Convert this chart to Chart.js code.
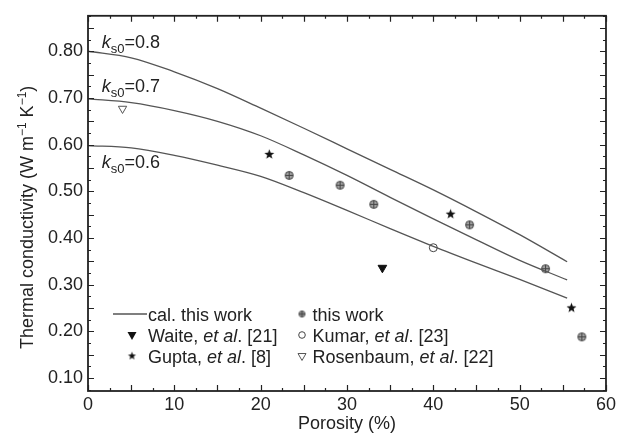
<!DOCTYPE html>
<html>
<head>
<meta charset="utf-8">
<script src="https://cdn.jsdelivr.net/npm/chart.js@4.4.1/dist/chart.umd.min.js"></script>
<style>
  html, body { margin: 0; padding: 0; background: #fff; }
  #wrap { width: 619px; height: 438px; }
</style>
</head>
<body>
<div id="wrap"><canvas id="chart" width="619" height="438"></canvas></div>
<script>
// cal. this work, one curve per ks0
const curveX = [0, 5, 10, 15, 20, 25, 30, 35, 40, 45, 50, 55.5];
const curve08 = [0.800, 0.786, 0.756, 0.720, 0.678, 0.635, 0.591, 0.547, 0.503, 0.456, 0.407, 0.349];
const curve07 = [0.698, 0.690, 0.673, 0.650, 0.619, 0.578, 0.534, 0.487, 0.441, 0.396, 0.352, 0.310];
const curve06 = [0.598, 0.593, 0.577, 0.556, 0.532, 0.497, 0.459, 0.420, 0.382, 0.346, 0.311, 0.271];

// measured data
const thisWorkX = [23.3, 29.2, 33.1, 44.2, 53.0, 57.2];
const thisWorkY = [0.534, 0.513, 0.472, 0.428, 0.334, 0.188];
const waiteX = [34.1];
const waiteY = [0.336];
const guptaX = [21.0, 42.0, 56.0];
const guptaY = [0.579, 0.451, 0.250];
const kumarX = [40.0];
const kumarY = [0.379];
const rosenX = [4.0];
const rosenY = [0.677];

// axis ticks
const xTicks = [0, 10, 20, 30, 40, 50, 60];
const yTicks = [0.10, 0.20, 0.30, 0.40, 0.50, 0.60, 0.70, 0.80];

// ks0 curve labels
const ksValues = ['0.8', '0.7', '0.6'];
const ksLabelY = [0.808, 0.712, 0.549];
const ksLabelX = 1.6;

const FONT = "'Liberation Sans', Arial, sans-serif";
const INK = '#222';

const toXY = (xs, ys) => xs.map((x, i) => ({ x: x, y: ys[i] }));

// marker images
function makeCrossCircle(r) {
  const s = Math.ceil(r * 2 + 3);
  const c = document.createElement('canvas');
  c.width = s; c.height = s;
  const g = c.getContext('2d');
  const m = s / 2;
  g.beginPath(); g.arc(m, m, r, 0, Math.PI * 2);
  g.fillStyle = '#a0a0a0'; g.fill();
  g.lineWidth = 1; g.strokeStyle = '#444'; g.stroke();
  g.beginPath();
  g.moveTo(m - r, m); g.lineTo(m + r, m);
  g.moveTo(m, m - r); g.lineTo(m, m + r);
  g.stroke();
  return c;
}

function makeStar(R) {
  const s = Math.ceil(R * 2 + 2);
  const c = document.createElement('canvas');
  c.width = s; c.height = s;
  const g = c.getContext('2d');
  const m = s / 2;
  g.beginPath();
  for (let i = 0; i < 10; i++) {
    const rr = i % 2 === 0 ? R : R * 0.42;
    const a = -Math.PI / 2 + i * Math.PI / 5;
    const px = m + rr * Math.cos(a), py = m + rr * Math.sin(a);
    if (i === 0) g.moveTo(px, py); else g.lineTo(px, py);
  }
  g.closePath();
  g.fillStyle = '#111'; g.fill();
  return c;
}

const crossCircle = makeCrossCircle(4);
const crossCircleSmall = makeCrossCircle(3);
const starImg = makeStar(5.2);
const starSmall = makeStar(4.2);

function curveDs(ys) {
  return {
    data: toXY(curveX, ys),
    showLine: true,
    borderColor: '#555',
    borderWidth: 1.3,
    pointRadius: 0,
    fill: false,
    cubicInterpolationMode: 'monotone'
  };
}

// text with mixed italic parts, returns width
function drawParts(ctx, parts, x, y, size) {
  let cx = x;
  for (const [txt, style] of parts) {
    ctx.font = (style === 'i' ? 'italic ' : '') + size + 'px ' + FONT;
    ctx.fillText(txt, cx, y);
    cx += ctx.measureText(txt).width;
  }
  return cx - x;
}

function downTriangle(ctx, x, y, w, fill, stroke) {
  const h = w * 0.87;
  ctx.beginPath();
  ctx.moveTo(x - w / 2, y - h / 2);
  ctx.lineTo(x + w / 2, y - h / 2);
  ctx.lineTo(x, y + h / 2);
  ctx.closePath();
  if (fill) { ctx.fillStyle = fill; ctx.fill(); }
  if (stroke) { ctx.lineWidth = 1; ctx.strokeStyle = stroke; ctx.stroke(); }
}

const decorPlugin = {
  id: 'decor',
  afterDraw(chart) {
    const ctx = chart.ctx;
    const a = chart.chartArea;
    const xs = chart.scales.x, ys = chart.scales.y;
    ctx.save();

    // frame
    ctx.strokeStyle = INK;
    ctx.lineWidth = 1.8;
    ctx.strokeRect(a.left, a.top, a.right - a.left, a.bottom - a.top);

    // inward ticks on all four sides
    ctx.lineWidth = 1.2;
    ctx.beginPath();
    for (let v = 0; v <= 60.001; v += 2.5) {
      const px = Math.round(xs.getPixelForValue(v)) + 0.5;
      const len = Math.abs(v / 5 - Math.round(v / 5)) < 1e-6 ? 6 : 3;
      ctx.moveTo(px, a.bottom); ctx.lineTo(px, a.bottom - len);
      ctx.moveTo(px, a.top); ctx.lineTo(px, a.top + len);
    }
    for (let v = 0.075; v <= 0.876; v += 0.025) {
      const py = Math.round(ys.getPixelForValue(v)) + 0.5;
      const len = Math.abs(v / 0.05 - Math.round(v / 0.05)) < 1e-6 ? 6 : 3;
      ctx.moveTo(a.left, py); ctx.lineTo(a.left + len, py);
      ctx.moveTo(a.right, py); ctx.lineTo(a.right - len, py);
    }
    ctx.stroke();

    // ks0 labels
    ctx.fillStyle = INK;
    ctx.textBaseline = 'alphabetic';
    ctx.textAlign = 'left';
    ksValues.forEach((val, i) => {
      let x = xs.getPixelForValue(ksLabelX);
      const y = ys.getPixelForValue(ksLabelY[i]);
      ctx.font = 'italic 18px ' + FONT;
      ctx.fillText('k', x, y);
      x += ctx.measureText('k').width;
      ctx.font = '13px ' + FONT;
      ctx.fillText('s0', x, y + 5);
      x += ctx.measureText('s0').width;
      ctx.font = '18px ' + FONT;
      ctx.fillText('=' + val, x, y);
    });

    // legend
    const rows = [a.bottom - 70, a.bottom - 49, a.bottom - 28];
    const c1m = a.left + 44, c1t = a.left + 60;
    const c2m = a.left + 214, c2t = a.left + 224.5;
    ctx.fillStyle = INK;
    // col 1
    ctx.strokeStyle = '#555'; ctx.lineWidth = 1.3;
    ctx.beginPath(); ctx.moveTo(a.left + 25, rows[0] - 7); ctx.lineTo(a.left + 59, rows[0] - 7); ctx.stroke();
    drawParts(ctx, [['cal. this work', 'n']], c1t, rows[0], 18);
    downTriangle(ctx, c1m, rows[1] - 6, 9, '#111', null);
    ctx.fillStyle = INK;
    drawParts(ctx, [['Waite, ', 'n'], ['et al', 'i'], ['. [21]', 'n']], c1t, rows[1], 18);
    ctx.drawImage(starSmall, c1m - starSmall.width / 2, rows[2] - 7 - starSmall.height / 2);
    drawParts(ctx, [['Gupta, ', 'n'], ['et al', 'i'], ['. [8]', 'n']], c1t, rows[2], 18);
    // col 2
    ctx.drawImage(crossCircleSmall, c2m - crossCircleSmall.width / 2, rows[0] - 7 - crossCircleSmall.height / 2);
    ctx.fillStyle = INK;
    drawParts(ctx, [['this work', 'n']], c2t, rows[0], 18);
    ctx.beginPath(); ctx.arc(c2m, rows[1] - 7, 3.3, 0, Math.PI * 2);
    ctx.fillStyle = '#fff'; ctx.fill(); ctx.lineWidth = 1; ctx.strokeStyle = '#444'; ctx.stroke();
    ctx.fillStyle = INK;
    drawParts(ctx, [['Kumar, ', 'n'], ['et al', 'i'], ['. [23]', 'n']], c2t, rows[1], 18);
    downTriangle(ctx, c2m, rows[2] - 6, 8, '#fff', '#555');
    ctx.fillStyle = INK;
    drawParts(ctx, [['Rosenbaum, ', 'n'], ['et al', 'i'], ['. [22]', 'n']], c2t, rows[2], 18);

    // y axis title with superscripts
    const tParts = [['Thermal conductivity (W m', 18, 0], ['\u22121', 12, -7], [' K', 18, 0], ['\u22121', 12, -7], [')', 18, 0]];
    let w = 0;
    for (const [t, s] of tParts) { ctx.font = s + 'px ' + FONT; w += ctx.measureText(t).width; }
    ctx.translate(33, (a.top + a.bottom) / 2 + 14);
    ctx.rotate(-Math.PI / 2);
    let tx = -w / 2;
    ctx.fillStyle = INK;
    for (const [t, s, dy] of tParts) {
      ctx.font = s + 'px ' + FONT;
      ctx.fillText(t, tx, dy);
      tx += ctx.measureText(t).width;
    }
    ctx.restore();
  }
};

new Chart(document.getElementById('chart'), {
  type: 'scatter',
  data: {
    datasets: [
      curveDs(curve08),
      curveDs(curve07),
      curveDs(curve06),
      {
        label: 'this work',
        data: toXY(thisWorkX, thisWorkY),
        pointStyle: crossCircle
      },
      {
        label: 'Waite, et al. [21]',
        data: toXY(waiteX, waiteY),
        pointStyle: 'triangle',
        rotation: 180,
        radius: 5,
        backgroundColor: '#111',
        borderColor: '#111',
        borderWidth: 1
      },
      {
        label: 'Gupta, et al. [8]',
        data: toXY(guptaX, guptaY),
        pointStyle: starImg
      },
      {
        label: 'Kumar, et al. [23]',
        data: toXY(kumarX, kumarY),
        pointStyle: 'circle',
        radius: 4,
        backgroundColor: '#fff',
        borderColor: '#444',
        borderWidth: 1
      },
      {
        label: 'Rosenbaum, et al. [22]',
        data: toXY(rosenX, rosenY),
        pointStyle: 'triangle',
        rotation: 180,
        radius: 4.8,
        backgroundColor: '#fff',
        borderColor: '#555',
        borderWidth: 1
      }
    ]
  },
  options: {
    responsive: false,
    animation: false,
    devicePixelRatio: 1,
    layout: { padding: { left: 0, right: 11, top: 15, bottom: 0 } },
    plugins: {
      legend: { display: false },
      tooltip: { enabled: false }
    },
    scales: {
      x: {
        type: 'linear',
        min: 0,
        max: 60,
        grid: { display: false, drawTicks: false },
        border: { display: false },
        afterBuildTicks: s => { s.ticks = xTicks.map(v => ({ value: v })); },
        afterFit: s => { s.height = 47; },
        ticks: { color: INK, padding: 3, maxRotation: 0, font: { family: FONT, size: 18 } },
        title: { display: true, text: 'Porosity (%)', color: INK, padding: { top: 0, bottom: 3 }, font: { family: FONT, size: 18 } }
      },
      y: {
        type: 'linear',
        min: 0.072,
        max: 0.876,
        grid: { display: false, drawTicks: false },
        border: { display: false },
        afterBuildTicks: s => { s.ticks = yTicks.map(v => ({ value: v })); },
        afterFit: s => { s.width = 88; },
        ticks: { color: INK, padding: 5, font: { family: FONT, size: 18 }, callback: v => v.toFixed(2) }
      }
    }
  },
  plugins: [decorPlugin]
});
</script>
</body>
</html>
